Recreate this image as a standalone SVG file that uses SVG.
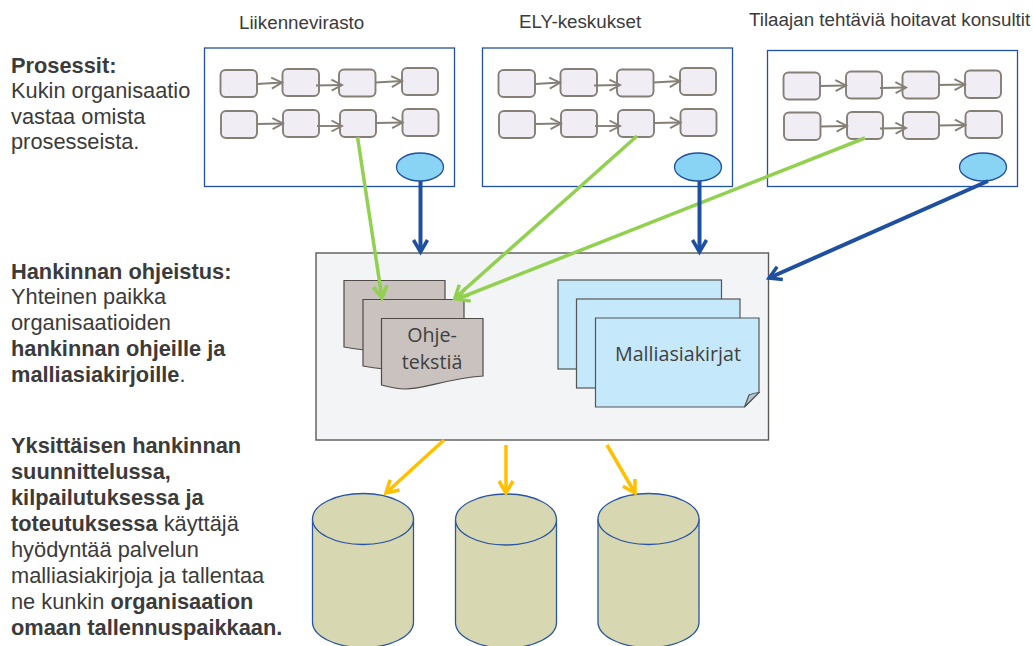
<svg xmlns="http://www.w3.org/2000/svg" width="1033" height="646" viewBox="0 0 1033 646">
<style>
.t{font-family:"Liberation Sans",Arial,sans-serif;font-size:21.8px;fill:#3b3b3b}
.h{font-family:"Liberation Sans",Arial,sans-serif;font-size:18.8px;fill:#3b3b3b}
.s{font-family:"Open Sans","Noto Sans",sans-serif;font-size:19.7px;fill:#3f3f3f;text-anchor:middle}
.b{font-weight:bold}
.org{fill:#fff;stroke:#2251a3;stroke-width:1.3}
.p{fill:#f1edf5;stroke:#857f76;stroke-width:1.9}
.e{fill:#89d3f5;stroke:#1f4f9f;stroke-width:1.3}
.pa{fill:none;stroke:#857f76;stroke-width:1.9;marker-end:url(#ag)}
.doc{fill:#c9c2bf;stroke:#4f4b49;stroke-width:1.2}
.tpl{fill:#c5e8fb;stroke:#555;stroke-width:1.2}
.cyl{fill:#d7d7b1;stroke:#2a55a0;stroke-width:1.3}
.ln{fill:none;stroke-width:3.5}
.g{stroke:#92d050;marker-end:url(#mg)}
.d{stroke:#1f4f9f;stroke-width:4;marker-end:url(#md)}
.y{stroke:#ffc000;marker-end:url(#my)}
</style>
<defs>
<marker id="ag" markerUnits="userSpaceOnUse" markerWidth="14" markerHeight="14" refX="11.500" refY="7" orient="auto"><path d="M1 1.500L11.500 7L1 12.500" fill="none" stroke="#857f76" stroke-width="1.900"/></marker>
<marker id="mg" markerUnits="userSpaceOnUse" markerWidth="20" markerHeight="20" refX="16" refY="10" orient="auto"><path d="M4 3L16 10L4 17" fill="none" stroke="#92d050" stroke-width="3.500"/></marker>
<marker id="md" markerUnits="userSpaceOnUse" markerWidth="20" markerHeight="20" refX="16" refY="10" orient="auto"><path d="M4 3L16 10L4 17" fill="none" stroke="#1f4f9f" stroke-width="3.500"/></marker>
<marker id="my" markerUnits="userSpaceOnUse" markerWidth="20" markerHeight="20" refX="16" refY="10" orient="auto"><path d="M4 3L16 10L4 17" fill="none" stroke="#ffc000" stroke-width="3.500"/></marker>
</defs>
<rect width="1033" height="646" fill="#fff"/>
<g id="labels-left">
<text class="t b" x="11" y="73">Prosessit:</text>
<text class="t" x="11" y="98">Kukin organisaatio</text>
<text class="t" x="11" y="124">vastaa omista</text>
<text class="t" x="11" y="149">prosesseista.</text>
<text class="t b" x="11" y="279">Hankinnan ohjeistus:</text>
<text class="t" x="11" y="304">Yhteinen paikka</text>
<text class="t" x="11" y="330">organisaatioiden</text>
<text class="t b" x="11" y="356">hankinnan ohjeille ja</text>
<text class="t" x="11" y="382"><tspan class="b">malliasiakirjoille</tspan>.</text>
<text class="t b" x="11" y="453">Yksittäisen hankinnan</text>
<text class="t b" x="11" y="479">suunnittelussa,</text>
<text class="t b" x="11" y="505">kilpailutuksessa ja</text>
<text class="t" x="11" y="531"><tspan class="b">toteutuksessa</tspan> käyttäjä</text>
<text class="t" x="11" y="557">hyödyntää palvelun</text>
<text class="t" x="11" y="583">malliasiakirjoja ja tallentaa</text>
<text class="t" x="11" y="609">ne kunkin <tspan class="b">organisaation</tspan></text>
<text class="t b" x="11" y="635">omaan tallennuspaikkaan.</text>
</g>
<g id="org-liikennevirasto">
<text class="h" x="239" y="29">Liikennevirasto</text>
<rect class="org" x="204.5" y="48" width="250" height="138.5"/>
<rect class="p" x="220.5" y="70" width="36.5" height="27" rx="5"/><rect class="p" x="282.5" y="69" width="36.5" height="27" rx="5"/><rect class="p" x="339" y="69.500" width="36.500" height="27" rx="5"/><rect class="p" x="402" y="68" width="36" height="27" rx="5"/>
<rect class="p" x="221" y="111" width="36" height="27" rx="5"/><rect class="p" x="283" y="110" width="36" height="27" rx="5"/><rect class="p" x="340" y="110" width="36" height="27" rx="5"/><rect class="p" x="402.500" y="109" width="36" height="27" rx="5"/>
<path class="pa" d="M257 84L282 82.500"/><path class="pa" d="M316 85.500L342 85"/><path class="pa" d="M375.500 82.500L402 81"/>
<path class="pa" d="M257 124L283 123.500"/><path class="pa" d="M317 126L342 126"/><path class="pa" d="M376 123L402.500 122.500"/>
<ellipse class="e" cx="420" cy="167" rx="23.500" ry="14"/>
</g>
<g id="org-ely">
<text class="h" x="519" y="28">ELY-keskukset</text>
<rect class="org" x="482.5" y="48" width="250" height="138.5"/>
<rect class="p" x="498.500" y="70" width="36.500" height="27" rx="5"/><rect class="p" x="560.500" y="69" width="36.500" height="27" rx="5"/><rect class="p" x="617" y="69.500" width="36.500" height="27" rx="5"/><rect class="p" x="680" y="68" width="36" height="27" rx="5"/>
<rect class="p" x="499" y="111" width="36" height="27" rx="5"/><rect class="p" x="561" y="110" width="36" height="27" rx="5"/><rect class="p" x="618" y="110" width="36" height="27" rx="5"/><rect class="p" x="680.500" y="109" width="36" height="27" rx="5"/>
<path class="pa" d="M535 84L560 82.500"/><path class="pa" d="M594 85.500L620 85"/><path class="pa" d="M653.500 82.500L680 81"/>
<path class="pa" d="M535 124L561 123.500"/><path class="pa" d="M595 126L620 126"/><path class="pa" d="M654 123L680.500 122.500"/>
<ellipse class="e" cx="698" cy="167" rx="23.500" ry="14"/>
</g>
<g id="org-konsultit">
<text class="h" x="749" y="26">Tilaajan tehtäviä hoitavat konsultit</text>
<rect class="org" x="767.5" y="50.5" width="250" height="136"/>
<rect class="p" x="783.500" y="72.500" width="36.500" height="27" rx="5"/><rect class="p" x="846" y="71.500" width="36" height="27" rx="5"/><rect class="p" x="902.500" y="71.500" width="36.500" height="27" rx="5"/><rect class="p" x="965" y="70.500" width="36" height="27.500" rx="5"/>
<rect class="p" x="784" y="112.500" width="36.500" height="27.500" rx="5"/><rect class="p" x="847" y="112" width="36" height="27" rx="5"/><rect class="p" x="903" y="112" width="36" height="27" rx="5"/><rect class="p" x="965.500" y="111" width="36.500" height="27" rx="5"/>
<path class="pa" d="M820 86L846 85.500"/><path class="pa" d="M880 88L906 87.500"/><path class="pa" d="M939 85L965 84.500"/>
<path class="pa" d="M820.500 126.500L847 126"/><path class="pa" d="M880 128.500L906 128"/><path class="pa" d="M939 125.500L965.500 125"/>
<ellipse class="e" cx="983" cy="167" rx="23.500" ry="14"/>
</g>
<g id="guidance">
<rect x="316" y="253" width="452.500" height="187" fill="#f3f4f6" stroke="#5c5a56" stroke-width="1.400"/>
</g>
<g id="docs-ohjeteksti">
<path class="doc" d="M344 280.500H445V345Q390 356 344 347Z"/>
<path class="doc" d="M363 299.500H464V364Q409 375 363 366Z"/>
<path class="doc" d="M381.500 318.500H483V376C445 379 425 389 405 389C397 389 389 387 381.500 385Z"/>
<text class="s" x="432" y="342">Ohje-</text>
<text class="s" x="432" y="369">tekstiä</text>
</g>
<g id="docs-malliasiakirjat">
<rect class="tpl" x="558" y="280" width="163.500" height="89"/>
<rect class="tpl" x="576.500" y="299" width="163.500" height="89"/>
<path class="tpl" d="M595.500 318H759V392.500L744.500 407H595.500Z"/>
<path d="M744.500 407L749 395Q753 393 759 392.500Z" fill="#b3c4cf" stroke="#555" stroke-width="1.200"/>
<text class="s" x="678" y="361">Malliasiakirjat</text>
</g>
<g id="store-1"><path class="cyl" d="M312.500 519A50.500 25.500 0 0 1 413.500 519V622A50.500 25.500 0 0 1 312.500 622Z"/><path class="cyl" fill="none" d="M312.500 519A50.500 25.500 0 0 0 413.500 519"/></g>
<g id="store-2"><path class="cyl" d="M455.500 519.500A50.500 25.500 0 0 1 556.500 519.500V622.500A50.500 25.500 0 0 1 455.500 622.500Z"/><path class="cyl" fill="none" d="M455.500 519.500A50.500 25.500 0 0 0 556.500 519.500"/></g>
<g id="store-3"><path class="cyl" d="M598 519A50.500 25.500 0 0 1 699 519V622A50.500 25.500 0 0 1 598 622Z"/><path class="cyl" fill="none" d="M598 519A50.500 25.500 0 0 0 699 519"/></g>
<g id="connectors">
<path class="ln g" d="M357.500 137L382 298"/>
<path class="ln g" d="M637 136L455 298"/>
<path class="ln g" d="M865 138L457 299"/>
<path class="ln d" d="M420.500 181V252"/>
<path class="ln d" d="M699.500 181V252"/>
<path class="ln d" d="M988 181L769 278"/>
<path class="ln y" d="M444 440L386 493"/>
<path class="ln y" d="M506 445V493"/>
<path class="ln y" d="M607 445L635 493"/>
</g>
</svg>
